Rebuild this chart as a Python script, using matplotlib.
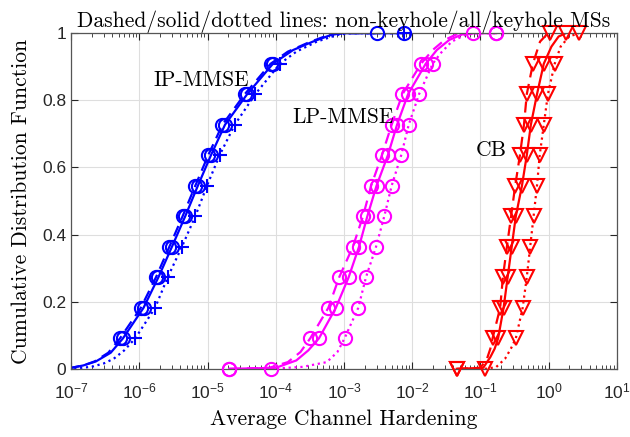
import numpy as np
import matplotlib
matplotlib.use("Agg")
import matplotlib.pyplot as plt

plt.rcParams["mathtext.fontset"] = "custom"
plt.rcParams["mathtext.rm"] = "Liberation Sans"
plt.rcParams["mathtext.it"] = "Liberation Sans:italic"
plt.rcParams["mathtext.bf"] = "Liberation Sans:bold"
plt.rcParams["font.family"] = ["Liberation Sans", "DejaVu Sans"]

# CDF levels where markers sit
levels = np.arange(12) / 11

# marker positions (x value at each CDF level 0, 1/11, ..., 1)
ip_dash = [5e-8, 5.2e-7, 1.05e-6, 1.75e-6, 2.75e-6, 4.3e-6, 6.6e-6, 1.02e-5, 1.65e-5, 3.5e-5, 8.4e-5, 3.0e-3]
ip_solid = [5e-8, 5.75e-7, 1.15e-6, 1.9e-6, 3.0e-6, 4.7e-6, 7.2e-6, 1.12e-5, 1.8e-5, 3.8e-5, 9.1e-5, 7.6e-3]
ip_dot = [5e-8, 8.7e-7, 1.7e-6, 2.6e-6, 4.2e-6, 6.6e-6, 9.8e-6, 1.5e-5, 2.5e-5, 5.0e-5, 1.15e-4, 7.6e-3]

lp_dash = [2.07e-5, 3.2e-4, 5.9e-4, 8.5e-4, 1.35e-3, 1.9e-3, 2.5e-3, 3.6e-3, 5.0e-3, 7.2e-3, 1.35e-2, 7.8e-2]
lp_solid = [2.07e-5, 4.3e-4, 7.6e-4, 1.17e-3, 1.66e-3, 2.2e-3, 3.0e-3, 4.4e-3, 6.0e-3, 8.7e-3, 1.58e-2, 0.17]
lp_dot = [8.5e-5, 1.02e-3, 1.62e-3, 2.1e-3, 2.95e-3, 3.9e-3, 5.0e-3, 6.9e-3, 8.9e-3, 1.26e-2, 2.0e-2, 0.17]

cb_dash = [4.5e-2, 0.151, 0.195, 0.214, 0.245, 0.282, 0.324, 0.38, 0.436, 0.479, 0.589, 1.04]
cb_solid = [4.5e-2, 0.182, 0.219, 0.251, 0.288, 0.331, 0.407, 0.479, 0.55, 0.676, 0.851, 1.78]
cb_dot = [0.116, 0.331, 0.417, 0.479, 0.537, 0.603, 0.676, 0.741, 0.851, 0.977, 1.23, 2.77]

# extra points read along the curve tails (lower tail, upper tail)
ip_dash_lo = ([5e-8, 1e-7, 1.5e-7, 2.2e-7, 3.5e-7], [0.0, 0.003, 0.01, 0.022, 0.048])
ip_dash_hi = ([1.5e-4, 3.0e-4, 6.0e-4, 1.0e-3], [0.945, 0.972, 0.995, 1.0])
ip_solid_lo = ([5e-8, 1e-7, 1.5e-7, 2.3e-7, 3.8e-7], [0.0, 0.003, 0.01, 0.022, 0.048])
ip_solid_hi = ([1.8e-4, 3.5e-4, 6.9e-4, 1.0e-3], [0.95, 0.975, 0.997, 1.0])
ip_dot_lo = ([5e-8, 1e-7, 2e-7, 3e-7, 4.2e-7, 6e-7], [0.0, 0.0, 0.006, 0.016, 0.03, 0.055])
ip_dot_hi = ([2e-4, 4e-4, 8e-4, 1.2e-3], [0.945, 0.975, 0.995, 1.0])

lp_dash_lo = ([8e-5, 1.5e-4, 2.3e-4], [0.003, 0.02, 0.05])
lp_dash_hi = ([2e-2, 3e-2, 4.5e-2], [0.95, 0.98, 0.997])
lp_solid_lo = ([1e-4, 2e-4, 3e-4], [0.003, 0.025, 0.055])
lp_solid_hi = ([2.3e-2, 3.5e-2, 5.5e-2, 8e-2], [0.95, 0.98, 0.997, 1.0])
lp_dot_lo = ([2.5e-4, 5.6e-4, 8e-4], [0.006, 0.02, 0.05])
lp_dot_hi = ([2.6e-2, 3.8e-2, 6e-2, 9e-2], [0.94, 0.975, 0.995, 1.0])

cb_dash_lo = ([0.1, 0.125, 0.14], [0.003, 0.03, 0.06])
cb_dash_hi = ([0.75, 0.95], [0.975, 0.997])
cb_solid_lo = ([0.11, 0.14, 0.162], [0.003, 0.035, 0.06])
cb_solid_hi = ([1.1, 1.4], [0.96, 0.99])
cb_dot_lo = ([0.17, 0.23, 0.28], [0.005, 0.03, 0.06])
cb_dot_hi = ([1.5, 2.0], [0.96, 0.99])

title = "Dashed/solid/dotted lines: non-keyhole/all/keyhole MSs"
xlabel = "Average Channel Hardening"
ylabel = "Cumulative Distribution Function"


def curve(marks, lo, hi):
    # merge marker points with tail points, sorted along the CDF
    xs = list(marks) + list(lo[0]) + list(hi[0])
    ys = list(levels) + list(lo[1]) + list(hi[1])
    order = np.lexsort((xs, ys))
    return np.array(xs)[order], np.array(ys)[order]


fig, ax = plt.subplots(figsize=(6.3, 4.37), dpi=100)
fig.subplots_adjust(left=0.113, right=0.979, bottom=0.156, top=0.924)

dash = (0, (5, 3))
groups = [
    ("#0000ff", [(ip_dash, ip_dash_lo, ip_dash_hi, dash, "o"),
                 (ip_solid, ip_solid_lo, ip_solid_hi, "-", "o"),
                 (ip_dot, ip_dot_lo, ip_dot_hi, ":", "+")]),
    ("#ff00ff", [(lp_dash, lp_dash_lo, lp_dash_hi, dash, "o"),
                 (lp_solid, lp_solid_lo, lp_solid_hi, "-", "o"),
                 (lp_dot, lp_dot_lo, lp_dot_hi, ":", "o")]),
    ("#ff0000", [(cb_dash, cb_dash_lo, cb_dash_hi, dash, "v"),
                 (cb_solid, cb_solid_lo, cb_solid_hi, "-", "v"),
                 (cb_dot, cb_dot_lo, cb_dot_hi, ":", "v")]),
]

for color, lines in groups:
    for marks, lo, hi, ls, mk in lines:
        x, y = curve(marks, lo, hi)
        ax.plot(x, y, color=color, ls=ls, lw=1.6)
        m = np.array(marks)
        keep = m >= 1e-7
        ms = 10.5 if mk == "v" else 9.5
        ax.plot(m[keep], levels[keep], ls="none", marker=mk, ms=ms,
                mfc="none", mec=color, mew=1.5, clip_on=False, zorder=3)

ax.set_xscale("log")
ax.set_xlim(1e-7, 1e1)
ax.set_ylim(0, 1)
ax.set_xticks([10.0 ** k for k in range(-7, 2)])
ax.set_yticks([0, 0.2, 0.4, 0.6, 0.8, 1])
ax.set_yticklabels(["0", "0.2", "0.4", "0.6", "0.8", "1"])
ax.grid(True, which="major", color="#dedede", lw=0.8)
ax.set_axisbelow(True)
ax.tick_params(which="both", direction="in", top=True, right=True,
               labelsize=12.5, colors="#262626")
ax.tick_params(axis="x", which="major", pad=9)
ax.tick_params(which="major", length=5)
ax.tick_params(which="minor", length=3)
for s in ax.spines.values():
    s.set_color("#555555")
    s.set_linewidth(0.9)

serif = "cmr10"
fs = 15.5
ax.set_title(title, fontname=serif, fontsize=fs, pad=3)
ax.set_xlabel(xlabel, fontname=serif, fontsize=fs, labelpad=6)
ax.set_ylabel(ylabel, fontname=serif, fontsize=fs, labelpad=8)
ax.text(10 ** -5.8, 0.86, "IP-MMSE", fontname=serif, fontsize=fs, va="center")
ax.text(10 ** -3.76, 0.75, "LP-MMSE", fontname=serif, fontsize=fs, va="center")
ax.text(10 ** -1.07, 0.65, "CB", fontname=serif, fontsize=fs, va="center")

fig.savefig("out.png", dpi=100)
